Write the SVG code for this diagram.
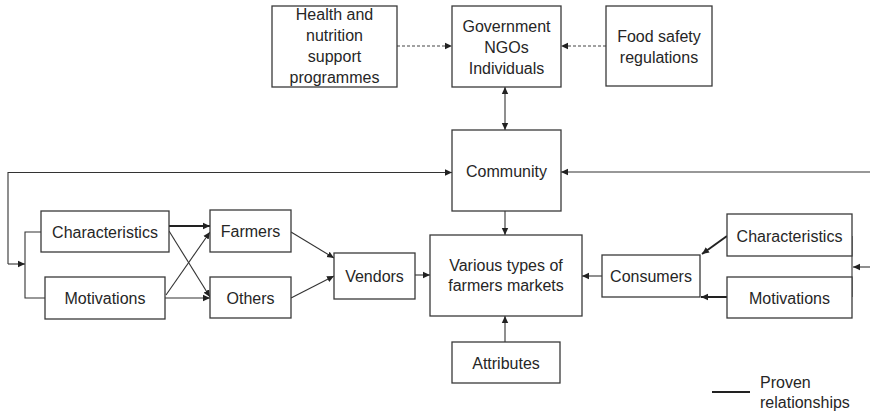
<svg xmlns="http://www.w3.org/2000/svg" width="870" height="414" viewBox="0 0 870 414">
<style>
  .box{fill:#fff;stroke:#3a3a3a;stroke-width:1.3}
  .t{font-family:"Liberation Sans",Arial,sans-serif;font-size:16px;fill:#262626;text-anchor:middle}
  .c{fill:none;stroke:#333;stroke-width:1.1}
  .th{fill:none;stroke:#222;stroke-width:2}
  .d{fill:none;stroke:#444;stroke-width:1.1;stroke-dasharray:3,2}
</style>
<defs>
  <marker id="ah" markerUnits="userSpaceOnUse" markerWidth="8" markerHeight="8" refX="7" refY="4" orient="auto">
    <path d="M0,0.8 L7,4 L0,7.2 Z" fill="#222"/>
  </marker>
  <marker id="ahs" markerUnits="userSpaceOnUse" markerWidth="8" markerHeight="8" refX="7" refY="4" orient="auto-start-reverse">
    <path d="M0,0.8 L7,4 L0,7.2 Z" fill="#222"/>
  </marker>
</defs>
<rect width="870" height="414" fill="#fff"/>
<g id="connectors">
  <line class="d" x1="397" y1="46" x2="452" y2="46" marker-end="url(#ah)"/>
  <line class="d" x1="606" y1="46" x2="561" y2="46" marker-end="url(#ah)"/>
  <line class="c" x1="505" y1="87" x2="505" y2="130" marker-start="url(#ahs)" marker-end="url(#ah)"/>
  <polyline class="c" points="8,264 8,172.5 452,172.5" marker-end="url(#ah)"/>
  <line class="c" x1="8" y1="264" x2="25" y2="264" marker-end="url(#ah)"/>
  <polyline class="c" points="41,232 25,232 25,298 45,298"/>
  <line class="c" x1="870" y1="172" x2="561" y2="172" marker-end="url(#ah)"/>
  <line class="th" x1="169" y1="226" x2="210" y2="226" marker-end="url(#ah)"/>
  <line class="c" x1="169" y1="231" x2="210" y2="297" marker-end="url(#ah)"/>
  <line class="c" x1="166" y1="295" x2="210" y2="232" marker-end="url(#ah)"/>
  <line class="c" x1="165" y1="298" x2="210" y2="298" marker-end="url(#ah)"/>
  <line class="c" x1="291" y1="232" x2="334" y2="258" marker-end="url(#ah)"/>
  <line class="c" x1="291" y1="298" x2="334" y2="276" marker-end="url(#ah)"/>
  <line class="c" x1="415" y1="275" x2="430" y2="275" marker-end="url(#ah)"/>
  <line class="c" x1="505" y1="211" x2="505" y2="235" marker-end="url(#ah)"/>
  <line class="c" x1="505" y1="342" x2="505" y2="316" marker-end="url(#ah)"/>
  <line class="c" x1="602" y1="276" x2="582" y2="276" marker-end="url(#ah)"/>
  <line class="th" x1="727" y1="236" x2="702" y2="254" marker-end="url(#ah)"/>
  <line class="th" x1="727" y1="297" x2="701" y2="297" marker-end="url(#ah)"/>
  <line class="c" x1="852" y1="236" x2="852" y2="297"/>
  <line class="c" x1="870" y1="267" x2="853" y2="267" marker-end="url(#ah)"/>
</g>
<g id="health"><rect class="box" x="272" y="6" width="125" height="81"/>
  <text class="t" x="334.5" y="20">Health and</text><text class="t" x="334.5" y="41">nutrition</text><text class="t" x="334.5" y="62">support</text><text class="t" x="334.5" y="83">programmes</text></g>
<g id="gov"><rect class="box" x="452" y="6" width="109" height="81"/>
  <text class="t" x="506.5" y="32">Government</text><text class="t" x="506.5" y="53">NGOs</text><text class="t" x="506.5" y="74">Individuals</text></g>
<g id="food"><rect class="box" x="606" y="6" width="106" height="80"/>
  <text class="t" x="659" y="42">Food safety</text><text class="t" x="659" y="63">regulations</text></g>
<g id="community"><rect class="box" x="452" y="130" width="109" height="81"/>
  <text class="t" x="506.5" y="177">Community</text></g>
<g id="char-left"><rect class="box" x="41" y="211" width="128" height="41"/>
  <text class="t" x="105" y="238">Characteristics</text></g>
<g id="motiv-left"><rect class="box" x="45" y="277" width="120" height="42"/>
  <text class="t" x="105" y="304">Motivations</text></g>
<g id="farmers"><rect class="box" x="210" y="210" width="81" height="42"/>
  <text class="t" x="250.5" y="237">Farmers</text></g>
<g id="others"><rect class="box" x="210" y="277" width="81" height="41"/>
  <text class="t" x="250.5" y="304">Others</text></g>
<g id="vendors"><rect class="box" x="334" y="253" width="81" height="46"/>
  <text class="t" x="374.5" y="282">Vendors</text></g>
<g id="markets"><rect class="box" x="430" y="235" width="152" height="81"/>
  <text class="t" x="506" y="271">Various types of</text><text class="t" x="506" y="291">farmers markets</text></g>
<g id="attributes"><rect class="box" x="452" y="342" width="108" height="41"/>
  <text class="t" x="506" y="369">Attributes</text></g>
<g id="consumers"><rect class="box" x="602" y="255" width="98" height="42"/>
  <text class="t" x="651" y="282">Consumers</text></g>
<g id="char-right"><rect class="box" x="727" y="214" width="125" height="42"/>
  <text class="t" x="789.5" y="242">Characteristics</text></g>
<g id="motiv-right"><rect class="box" x="727" y="277" width="125" height="41"/>
  <text class="t" x="789.5" y="304">Motivations</text></g>
<g id="legend">
  <line x1="712" y1="392" x2="750" y2="392" stroke="#222" stroke-width="2"/>
  <text class="t" x="760" y="388" style="text-anchor:start">Proven</text>
  <text class="t" x="760" y="408" style="text-anchor:start">relationships</text>
</g>
</svg>
